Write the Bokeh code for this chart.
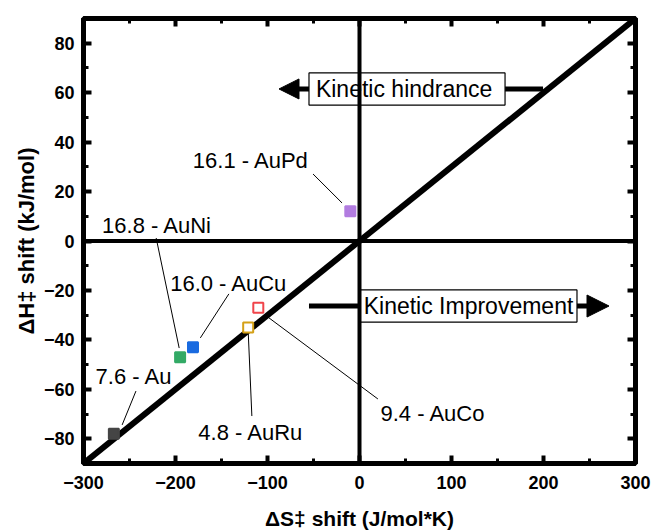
from bokeh.plotting import figure
from bokeh.models import (LinearAxis, SingleIntervalTicker, Span, Arrow, NormalHead,
                          ColumnDataSource, CustomJSTickFormatter)
from bokeh.core.properties import value
from bokeh.embed import file_html
from bokeh.resources import INLINE

# ---- data ----
catalysts = ["16.1 - AuPd", "9.4 - AuCo", "4.8 - AuRu", "16.0 - AuCu", "16.8 - AuNi", "7.6 - Au"]
dS_shift = [-10, -110, -121, -181, -195, -267]
dH_shift = [12, -27, -35, -43, -47, -78]
colors = ["#b27ce0", "#f0444a", "#d4a017", "#1a6be0", "#33aa66", "#454545"]
filled = [True, False, False, True, True, True]

diag_x = [-300, 300]
diag_y = [-90, 90]

x_ticks_interval = 100
y_ticks_interval = 20

FONT = "Liberation Sans"

p = figure(frame_width=552, frame_height=445, x_range=(-300, 300), y_range=(-90, 90),
           output_backend="svg", toolbar_location=None,
           min_border_left=83, min_border_right=17, min_border_top=18, min_border_bottom=69,
           x_axis_label="ΔS‡ shift (J/mol*K)", y_axis_label="ΔH‡ shift (kJ/mol)")
p.grid.visible = False
p.outline_line_color = "black"
p.outline_line_width = 5
p.background_fill_color = "white"
p.border_fill_color = "white"

p.xaxis.ticker = SingleIntervalTicker(interval=x_ticks_interval, num_minor_ticks=2)
p.yaxis.ticker = SingleIntervalTicker(interval=y_ticks_interval, num_minor_ticks=2)

def style_axis(ax):
    ax.axis_line_width = 5
    ax.axis_line_color = "black"
    ax.major_tick_in = 8
    ax.major_tick_out = 0
    ax.minor_tick_in = 5
    ax.minor_tick_out = 0
    ax.major_tick_line_width = 4
    ax.minor_tick_line_width = 3
    ax.major_label_text_font = FONT
    ax.major_label_text_font_style = "bold"
    ax.major_label_text_font_size = "18px"
    ax.major_label_text_color = "black"
    ax.axis_label_text_font = FONT
    ax.axis_label_text_font_style = "bold"
    ax.axis_label_text_font_size = "21px"
    ax.axis_label_text_color = "black"

for ax in p.xaxis:
    style_axis(ax)
    ax.major_label_standoff = 12
    ax.axis_label_standoff = 15
for ax in p.yaxis:
    style_axis(ax)
    ax.major_label_standoff = 9
    ax.axis_label_standoff = 2
    ax.axis_label_text_font_size = "22px"

blank = CustomJSTickFormatter(code="return '';")
top = LinearAxis(ticker=SingleIntervalTicker(interval=x_ticks_interval, num_minor_ticks=2), formatter=blank)
right = LinearAxis(ticker=SingleIntervalTicker(interval=y_ticks_interval, num_minor_ticks=2), formatter=blank)
for ax in (top, right):
    style_axis(ax)
    ax.major_label_standoff = 0
    ax.major_label_text_font_size = "1px"
p.add_layout(top, "above")
p.add_layout(right, "right")

# zero lines
p.add_layout(Span(location=0, dimension="height", line_color="black", line_width=4))
p.add_layout(Span(location=0, dimension="width", line_color="black", line_width=4))

# isokinetic diagonal
p.line(diag_x, diag_y, line_color="black", line_width=6)

# leader lines (annotation layout)
leaders = [(-50.5, 27.1, -19, 15.4), (-98.4, -31.1, 20, -63.9), (-121, -36.4, -117, -70.8),
           (-142, -21.4, -173, -39.2), (-221, 1.2, -196, -43.3), (-243, -60.7, -258, -74.4)]
p.segment(x0=[l[0] for l in leaders], y0=[l[1] for l in leaders],
          x1=[l[2] for l in leaders], y1=[l[3] for l in leaders],
          line_color="black", line_width=1)

# points
src = ColumnDataSource(dict(
    x=dS_shift, y=dH_shift, line=colors,
    fill=[c if f else "white" for c, f in zip(colors, filled)],
))
p.scatter("x", "y", source=src, marker="square", size=10, line_color="line",
          fill_color="fill", line_width=2)

# labels (annotation layout)
label_pos = [(-118, 32.4), (80, -69.6), (-118, -77.3), (-142, -17), (-220, 6.1), (-245, -55)]
p.text(x=[lp[0] for lp in label_pos], y=[lp[1] for lp in label_pos], text=catalysts,
       text_font=value(FONT), text_font_size="22px", text_align="center",
       text_baseline="middle", text_color="black")

# Kinetic hindrance box + arrow
p.segment(x0=[158.2], y0=[61.5], x1=[199.5], y1=[61.5], line_color="black", line_width=5)
p.add_layout(Arrow(end=NormalHead(size=20, fill_color="black", line_color="black"),
                   x_start=-54.9, y_start=61.5, x_end=-87.5, y_end=61.5,
                   line_color="black", line_width=5))
p.quad(left=[-54.9], right=[158.2], bottom=[55], top=[68], fill_color="white",
       line_color="black", line_width=1.2)
p.text(x=[52], y=[61.5], text=["Kinetic  hindrance"], text_font=value(FONT),
       text_font_size="23px", text_align="center", text_baseline="middle", text_color="black")

# Kinetic Improvement box + arrow
p.segment(x0=[-54.9], y0=[-26.3], x1=[0.5], y1=[-26.3], line_color="black", line_width=5)
p.add_layout(Arrow(end=NormalHead(size=22, fill_color="black", line_color="black"),
                   x_start=236.4, y_start=-26.3, x_end=271.2, y_end=-26.3,
                   line_color="black", line_width=5))
p.quad(left=[0.5], right=[236.4], bottom=[-32.8], top=[-19.8], fill_color="white",
       line_color="black", line_width=1.2)
p.text(x=[118.5], y=[-26.3], text=["Kinetic Improvement"], text_font=value(FONT),
       text_font_size="23px", text_align="center", text_baseline="middle", text_color="black")

open("out.html", "w").write(file_html(p, INLINE))
